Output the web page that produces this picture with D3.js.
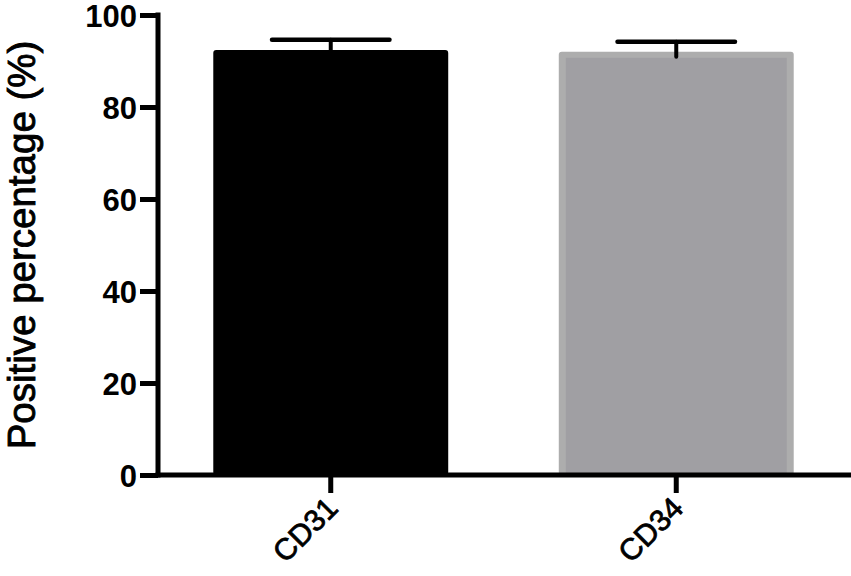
<!DOCTYPE html>
<html>
<head>
<meta charset="utf-8">
<script src="https://cdn.jsdelivr.net/npm/d3@7"></script>
<style>
  html, body { margin: 0; padding: 0; background: #fff; }
  svg { display: block; }
</style>
</head>
<body>
<svg id="chart" width="851" height="576"></svg>
<script>
const categories = ["CD31", "CD34"];
const means = [92.4, 92.0];
const errors = [2.2, 2.2];
const yTicks = [0, 20, 40, 60, 80, 100];
const yTitle = "Positive percentage (%)";

const svg = d3.select("#chart");
const W = 851, H = 576;
const axisX = 158, axisY = 475, topY = 15;

const y = d3.scaleLinear().domain([0, 100]).range([axisY, topY]);
const x = d3.scaleBand().domain(categories).range([axisX, 849]).paddingInner(0.32).paddingOuter(0.16);

// bars
const bw = x.bandwidth();
categories.forEach((c, i) => {
  const x0 = x(c), y0 = y(means[i]);
  if (i === 0) {
    svg.append("rect").attr("x", x0).attr("y", y0).attr("width", bw).attr("height", axisY - y0)
      .attr("rx", 3).attr("fill", "#000");
  } else {
    svg.append("rect").attr("x", x0).attr("y", y0).attr("width", bw).attr("height", axisY - y0)
      .attr("rx", 3).attr("fill", "#adadad");
    svg.append("rect").attr("x", x0 + 7).attr("y", y0 + 6).attr("width", bw - 14).attr("height", axisY - y0 - 6)
      .attr("fill", "#a09fa3");
  }
  // error bar (upper)
  const cx = x0 + bw / 2;
  const yt = y(means[i] + errors[i]);
  svg.append("line").attr("x1", cx).attr("x2", cx).attr("y1", y0 + 5).attr("y2", yt)
    .attr("stroke", "#000").attr("stroke-width", 4).attr("stroke-linecap", "round");
  svg.append("line").attr("x1", cx - bw / 4).attr("x2", cx + bw / 4).attr("y1", yt).attr("y2", yt)
    .attr("stroke", "#000").attr("stroke-width", 4.5).attr("stroke-linecap", "round");
});

// y axis
const yAxis = d3.axisLeft(y).tickValues(yTicks).tickSize(18).tickPadding(3);
const gy = svg.append("g").attr("transform", `translate(${axisX},0)`).call(yAxis);
gy.select(".domain").remove();
gy.selectAll(".tick line").attr("stroke", "#000").attr("stroke-width", 5);
gy.selectAll(".tick text").attr("fill", "#000")
  .style("font-family", "'Liberation Sans', Arial, sans-serif")
  .style("font-weight", "bold").style("font-size", "31px").attr("dy", "0.36em");
svg.append("line").attr("x1", axisX).attr("x2", axisX).attr("y1", topY - 2.5).attr("y2", axisY + 2.5)
  .attr("stroke", "#000").attr("stroke-width", 5);

// x axis
svg.append("line").attr("x1", axisX - 2.5).attr("x2", W).attr("y1", axisY).attr("y2", axisY)
  .attr("stroke", "#000").attr("stroke-width", 5);
const xAxis = d3.axisBottom(x).tickSize(18).tickSizeOuter(0);
const gx = svg.append("g").attr("transform", `translate(0,${axisY})`).call(xAxis);
gx.select(".domain").remove();
gx.selectAll(".tick line").attr("stroke", "#000").attr("stroke-width", 5);
gx.selectAll(".tick text").attr("fill", "#000")
  .attr("stroke", "#000").attr("stroke-width", 0.8)
  .style("font-family", "'Liberation Sans', Arial, sans-serif")
  .style("font-size", "30px")
  .attr("text-anchor", "end")
  .attr("transform", "translate(-6,20) rotate(-45)")
  .attr("x", 0).attr("y", 0).attr("dy", "0.7em");

// y title
svg.append("text")
  .attr("transform", `translate(35,${(35 + 455) / 2}) rotate(-90)`)
  .attr("text-anchor", "middle")
  .attr("stroke", "#000").attr("stroke-width", 0.9)
  .style("font-family", "'Liberation Sans', Arial, sans-serif")
  .style("font-size", "38.5px")
  .attr("fill", "#000")
  .text(yTitle);
</script>
</body>
</html>
